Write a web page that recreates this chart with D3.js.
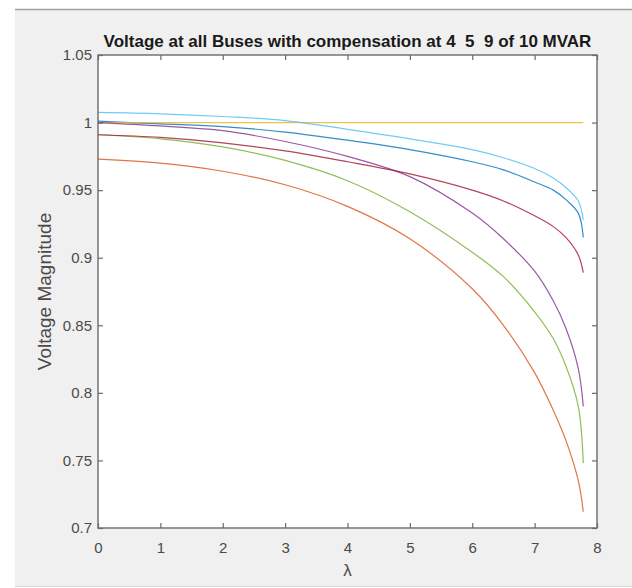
<!DOCTYPE html>
<html>
<head>
<meta charset="utf-8">
<script src="https://cdn.jsdelivr.net/npm/d3@7"></script>
<style>
  body { margin: 0; background: #ffffff; }
  text { font-family: "Liberation Sans", Arial, sans-serif; }
</style>
</head>
<body>
<script>
// lambda (loading factor) samples and bus voltages
var lambda = [0, 1, 2, 3, 4, 5, 6, 6.5, 7, 7.3, 7.5, 7.7, 7.78];
var vBlue      = [1.001, 0.999, 0.997, 0.993, 0.987, 0.980, 0.971, 0.965, 0.956, 0.950, 0.943, 0.933, 0.915];
var vOrange    = [0.973, 0.970, 0.964, 0.954, 0.938, 0.914, 0.877, 0.850, 0.815, 0.787, 0.765, 0.735, 0.712];
var vYellow    = [1, 1, 1, 1, 1, 1, 1, 1, 1, 1, 1, 1, 1];
var vPurple    = [1.000, 0.9975, 0.994, 0.986, 0.975, 0.960, 0.933, 0.914, 0.890, 0.868, 0.848, 0.818, 0.790];
var vGreen     = [0.991, 0.988, 0.982, 0.972, 0.957, 0.934, 0.904, 0.886, 0.860, 0.840, 0.820, 0.790, 0.748];
var vLightBlue = [1.0075, 1.0065, 1.0045, 1.0015, 0.995, 0.988, 0.980, 0.974, 0.966, 0.959, 0.952, 0.942, 0.928];
var vDarkRed   = [0.991, 0.989, 0.985, 0.979, 0.971, 0.962, 0.950, 0.942, 0.931, 0.923, 0.915, 0.902, 0.889];

var seriesList = [vBlue, vOrange, vYellow, vPurple, vGreen, vLightBlue, vDarkRed];
var seriesColors = ["#0072BD", "#D95319", "#EDB120", "#7E2F8E", "#77AC30", "#4DBEEE", "#A2142F"];

var xTicks = [0, 1, 2, 3, 4, 5, 6, 7, 8];
var yTicks = [0.7, 0.75, 0.8, 0.85, 0.9, 0.95, 1, 1.05];

var width = 632, height = 588;
var plotLeft = 98, plotRight = 597, plotTop = 55, plotBottom = 528;

var svg = d3.select("body").append("svg")
    .attr("width", width)
    .attr("height", height);

// figure background (window grey with white strip and edge line)
svg.append("rect").attr("x", 0).attr("y", 0).attr("width", width).attr("height", height).attr("fill", "#ffffff");
svg.append("rect").attr("x", 15).attr("y", 10).attr("width", width - 15).attr("height", 576).attr("fill", "#f0f0f0");
svg.append("line").attr("x1", 15).attr("x2", width).attr("y1", 9.5).attr("y2", 9.5)
    .attr("stroke", "#a0a0a0").attr("stroke-width", 1.5);
svg.append("line").attr("x1", 15).attr("x2", width).attr("y1", 586.5).attr("y2", 586.5)
    .attr("stroke", "#d8d8d8").attr("stroke-width", 1);

var x = d3.scaleLinear().domain([0, 8]).range([plotLeft, plotRight]);
var y = d3.scaleLinear().domain([0.7, 1.05]).range([plotBottom, plotTop]);

svg.append("rect")
    .attr("x", plotLeft).attr("y", plotTop)
    .attr("width", plotRight - plotLeft).attr("height", plotBottom - plotTop)
    .attr("fill", "#ffffff");

var line = d3.line()
    .x(function (d) { return x(d[0]); })
    .y(function (d) { return y(d[1]); })
    .curve(d3.curveCatmullRom.alpha(0.5));

var plot = svg.append("g");
seriesList.forEach(function (vals, i) {
    var pts = lambda.map(function (l, j) { return [l, vals[j]]; });
    plot.append("path")
        .attr("d", line(pts))
        .attr("fill", "none")
        .attr("stroke", seriesColors[i])
        .attr("stroke-width", 1.2)
        .attr("stroke-opacity", 0.8);
});

var fmt = function (d) { return String(+d.toFixed(2)); };
var axisColor = "#6b6b6b";
var labelColor = "#4a4a4a";

function styleAxis(g) {
    g.select(".domain").remove();
    g.selectAll(".tick line").attr("stroke", axisColor).attr("stroke-width", 1.2);
    g.selectAll(".tick text").attr("fill", labelColor).style("font-size", "15px");
}

svg.append("g")
    .attr("transform", "translate(0," + plotBottom + ")")
    .call(d3.axisBottom(x).tickValues(xTicks).tickFormat(fmt).tickSizeInner(-5).tickSizeOuter(0).tickPadding(14))
    .call(styleAxis);

svg.append("g")
    .attr("transform", "translate(0," + plotTop + ")")
    .call(d3.axisTop(x).tickValues(xTicks).tickFormat("").tickSizeInner(-5).tickSizeOuter(0))
    .call(styleAxis);

svg.append("g")
    .attr("transform", "translate(" + plotLeft + ",0)")
    .call(d3.axisLeft(y).tickValues(yTicks).tickFormat(fmt).tickSizeInner(-5).tickSizeOuter(0).tickPadding(6))
    .call(styleAxis);

svg.append("g")
    .attr("transform", "translate(" + plotRight + ",0)")
    .call(d3.axisRight(y).tickValues(yTicks).tickFormat("").tickSizeInner(-5).tickSizeOuter(0))
    .call(styleAxis);

// axes box
svg.append("rect")
    .attr("x", plotLeft).attr("y", plotTop)
    .attr("width", plotRight - plotLeft).attr("height", plotBottom - plotTop)
    .attr("fill", "none")
    .attr("stroke", axisColor)
    .attr("stroke-width", 1.4);

svg.append("text")
    .attr("x", (plotLeft + plotRight) / 2)
    .attr("y", 47)
    .attr("text-anchor", "middle")
    .attr("fill", "#1a1a1a")
    .style("font-size", "17px")
    .style("font-weight", "bold")
    .style("white-space", "pre")
    .attr("xml:space", "preserve")
    .text("Voltage at all Buses with compensation at 4  5  9 of 10 MVAR");

svg.append("text")
    .attr("transform", "translate(51," + ((plotTop + plotBottom) / 2) + ") rotate(-90)")
    .attr("text-anchor", "middle")
    .attr("fill", labelColor)
    .style("font-size", "19px")
    .text("Voltage Magnitude");

svg.append("text")
    .attr("x", (plotLeft + plotRight) / 2)
    .attr("y", 576)
    .attr("text-anchor", "middle")
    .attr("fill", labelColor)
    .style("font-size", "17px")
    .text("λ");
</script>
</body>
</html>
